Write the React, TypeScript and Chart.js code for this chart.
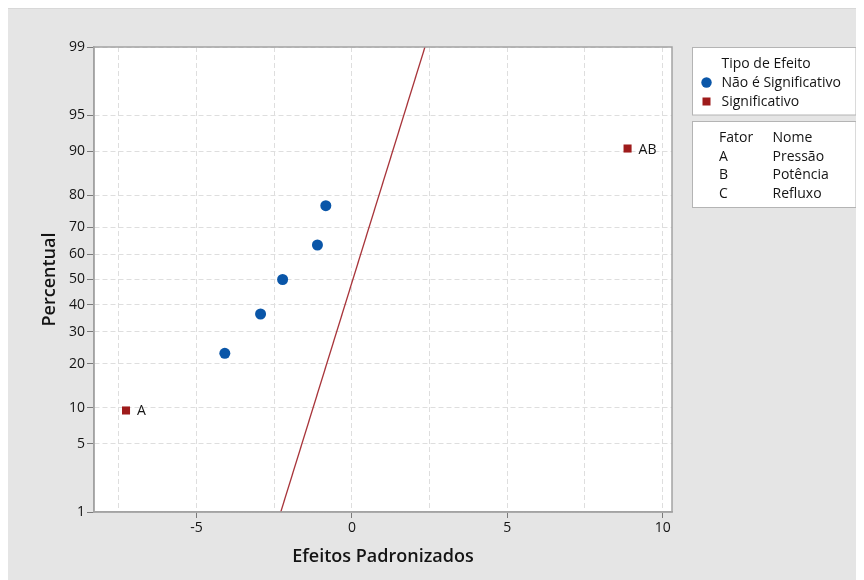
import React, { useEffect, useRef } from "react";
import { Chart, registerables } from "chart.js";

Chart.register(...registerables);

// ---- data ----
const yTickPercents = [1, 5, 10, 20, 30, 40, 50, 60, 70, 80, 90, 95, 99];
const xTickValues = [-7.5, -5, -2.5, 0, 2.5, 5, 7.5, 10];
const xLabelValues = [-5, 0, 5, 10];

const notSigEffects = [-4.09, -2.94, -2.23, -1.11, -0.84];
const notSigPercents = [23, 36.5, 50, 63.5, 77];

const sigEffects = [-7.27, 8.87];
const sigPercents = [9.5, 90.5];
const sigLabels = ["A", "AB"];

const refLineEffects = [-2.29, 2.35];
const refLinePercents = [1, 99];

const legendTitle = "Tipo de Efeito";
const legendItems = ["Não é Significativo", "Significativo"];
const factorHeader = ["Fator", "Nome"];
const factorCodes = ["A", "B", "C"];
const factorNames = ["Pressão", "Potência", "Refluxo"];

const xAxisTitle = "Efeitos Padronizados";
const yAxisTitle = "Percentual";

// ---- styling ----
const BLUE = "#0a56a8";
const RED = "#9e1b1b";
const LINE_RED = "#a8343a";
const GRID = "#dedede";
const FRAME = "#a3a3a3";
const TEXT = "#141414";
const FONT = "'Open Sans', 'Noto Sans', sans-serif";
const TXT_SIZE = 14;

// inverse standard normal CDF (Acklam) - maps percent to probability-scale position
function invNorm(p: number): number {
  const a = [-39.69683028665376, 220.9460984245205, -275.9285104469687, 138.357751867269, -30.66479806614716, 2.506628277459239];
  const b = [-54.47609879822406, 161.5858368580409, -155.6989798598866, 66.80131188771972, -13.28068155288572];
  const c = [-0.007784894002430293, -0.3223964580411365, -2.400758277161838, -2.549732539343734, 4.374664141464968, 2.938163982698783];
  const d = [0.007784695709041462, 0.3224671290700398, 2.445134137142996, 3.754408661907416];
  const pl = 0.02425;
  if (p < pl) {
    const q = Math.sqrt(-2 * Math.log(p));
    return (((((c[0] * q + c[1]) * q + c[2]) * q + c[3]) * q + c[4]) * q + c[5]) / ((((d[0] * q + d[1]) * q + d[2]) * q + d[3]) * q + 1);
  }
  if (p > 1 - pl) {
    const q = Math.sqrt(-2 * Math.log(1 - p));
    return -(((((c[0] * q + c[1]) * q + c[2]) * q + c[3]) * q + c[4]) * q + c[5]) / ((((d[0] * q + d[1]) * q + d[2]) * q + d[3]) * q + 1);
  }
  const q = p - 0.5;
  const r = q * q;
  return ((((((a[0] * r + a[1]) * r + a[2]) * r + a[3]) * r + a[4]) * r + a[5]) * q) / (((((b[0] * r + b[1]) * r + b[2]) * r + b[3]) * r + b[4]) * r + 1);
}
const pz = (pct: number) => invNorm(pct / 100);

const decorPlugin = {
  id: "decor",
  beforeDraw(chart: any) {
    const { ctx, chartArea: ca } = chart;
    ctx.save();
    ctx.fillStyle = "#ffffff";
    ctx.fillRect(ca.left, ca.top, ca.right - ca.left, ca.bottom - ca.top);
    ctx.restore();
  },
  afterDraw(chart: any) {
    const { ctx, chartArea: ca, scales } = chart;
    ctx.save();
    // frame
    ctx.strokeStyle = FRAME;
    ctx.lineWidth = 1.5;
    ctx.strokeRect(ca.left, ca.top, ca.right - ca.left, ca.bottom - ca.top);

    // point labels
    ctx.fillStyle = TEXT;
    ctx.font = `${TXT_SIZE}px ${FONT}`;
    ctx.textBaseline = "middle";
    ctx.textAlign = "left";
    sigLabels.forEach((lab, i) => {
      const px = scales.x.getPixelForValue(sigEffects[i]);
      const py = scales.y.getPixelForValue(pz(sigPercents[i]));
      ctx.fillText(lab, px + 11, py + 1);
    });

    // axis titles
    ctx.font = `600 18px ${FONT}`;
    ctx.textAlign = "center";
    ctx.fillText(xAxisTitle, (ca.left + ca.right) / 2, 548);
    ctx.save();
    ctx.translate(41.5, (ca.top + ca.bottom) / 2);
    ctx.rotate(-Math.PI / 2);
    ctx.fillText(yAxisTitle, 0, 0);
    ctx.restore();

    // legend boxes
    const bx = 684.5, bw = 163.5;
    ctx.fillStyle = "#ffffff";
    ctx.strokeStyle = "#b4b4b4";
    ctx.lineWidth = 1;
    ctx.fillRect(bx, 38.5, bw, 67.5);
    ctx.strokeRect(bx, 38.5, bw, 67.5);
    ctx.fillRect(bx, 112.5, bw, 86);
    ctx.strokeRect(bx, 112.5, bw, 86);

    ctx.font = `${TXT_SIZE}px ${FONT}`;
    ctx.textAlign = "left";
    ctx.fillStyle = TEXT;
    ctx.fillText(legendTitle, 713.5, 55);
    ctx.fillText(legendItems[0], 713.5, 74);
    ctx.fillText(legendItems[1], 713.5, 93);
    ctx.fillStyle = BLUE;
    ctx.beginPath();
    ctx.arc(698.5, 73.5, 5.2, 0, Math.PI * 2);
    ctx.fill();
    ctx.fillStyle = RED;
    ctx.fillRect(694.5, 88.5, 8, 8);

    ctx.fillStyle = TEXT;
    ctx.fillText(factorHeader[0], 711, 129.5);
    ctx.fillText(factorHeader[1], 764.5, 129.5);
    factorCodes.forEach((code, i) => {
      const y = 148 + i * 18.5;
      ctx.fillText(code, 711, y);
      ctx.fillText(factorNames[i], 764.5, y);
    });
    ctx.restore();
  },
};

export default function App() {
  const ref = useRef<HTMLCanvasElement | null>(null);
  useEffect(() => {
    if (!ref.current) return;
    const chart = new Chart(ref.current, {
      type: "scatter",
      data: {
        datasets: [
          {
            label: "ref",
            data: refLineEffects.map((x, i) => ({ x, y: pz(refLinePercents[i]) })),
            showLine: true,
            borderColor: LINE_RED,
            borderWidth: 1.3,
            pointRadius: 0,
            order: 3,
          },
          {
            label: legendItems[0],
            data: notSigEffects.map((x, i) => ({ x, y: pz(notSigPercents[i]) })),
            backgroundColor: BLUE,
            borderWidth: 0,
            pointRadius: 5.5,
            pointStyle: "circle",
            order: 1,
          },
          {
            label: legendItems[1],
            data: sigEffects.map((x, i) => ({ x, y: pz(sigPercents[i]) })),
            backgroundColor: RED,
            borderWidth: 0,
            pointRadius: 5.7,
            pointStyle: "rect",
            order: 2,
          },
        ],
      },
      options: {
        animation: false,
        responsive: false,
        maintainAspectRatio: false,
        events: [],
        layout: { padding: { top: 38, right: 192, left: 0, bottom: 0 } },
        plugins: { legend: { display: false }, tooltip: { enabled: false } },
        scales: {
          x: {
            type: "linear",
            min: -8.3,
            max: 10.3,
            afterBuildTicks: (s: any) => {
              s.ticks = xTickValues.map((v) => ({ value: v }));
            },
            afterFit: (s: any) => {
              s.height = 68;
            },
            grid: {
              color: GRID,
              tickColor: (c: any) => (xLabelValues.includes(c.tick?.value) ? "#7a7a7a" : "rgba(0,0,0,0)"),
              tickLength: 6,
              drawOnChartArea: true,
            },
            border: { color: FRAME, width: 1.5, dash: [5, 3] },
            ticks: {
              color: TEXT,
              font: { family: FONT, size: TXT_SIZE },
              padding: 2,
              maxRotation: 0,
              autoSkip: false,
              callback: (v: any) => (xLabelValues.includes(Number(v)) ? String(v) : ""),
            },
          },
          y: {
            type: "linear",
            min: pz(1),
            max: pz(99),
            afterBuildTicks: (s: any) => {
              s.ticks = yTickPercents.map((p) => ({ value: pz(p) }));
            },
            afterFit: (s: any) => {
              s.width = 86;
            },
            grid: {
              color: GRID,
              tickColor: "#7a7a7a",
              tickLength: 7,
            },
            border: { color: FRAME, width: 1.5, dash: [5, 3] },
            ticks: {
              color: TEXT,
              font: { family: FONT, size: TXT_SIZE },
              padding: 2,
              autoSkip: false,
              callback: (_v: any, i: number) => String(yTickPercents[i]),
            },
          },
        },
      },
      plugins: [decorPlugin],
    });
    return () => chart.destroy();
  }, []);
  return (
    <div style={{ width: 856, height: 572, background: "#e5e5e5", borderTop: "1px solid #d8d8d8", boxSizing: "border-box" }}>
      <canvas ref={ref} width={856} height={571} style={{ display: "block" }} />
    </div>
  );
}
